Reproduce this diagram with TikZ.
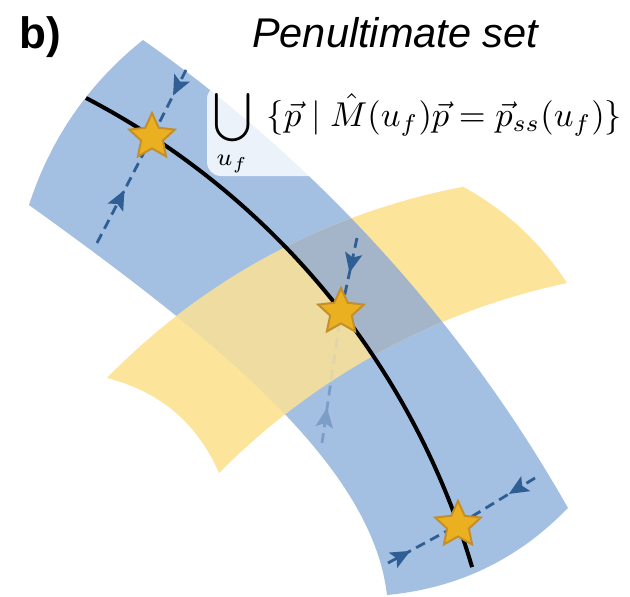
\documentclass[tikz,border=0pt]{standalone}
\usepackage{fontspec}
\setsansfont{Liberation Sans}
\usepackage{graphicx}
\usetikzlibrary{shapes.geometric,arrows.meta,decorations.markings}
\definecolor{bandblue}{HTML}{A3BFE1}
\definecolor{bandyellow}{HTML}{FCE49B}
\definecolor{tanmix}{HTML}{EEDCA0}
\definecolor{graymix}{HTML}{A4B5C9}
\definecolor{trajblue}{HTML}{2E5E94}
\definecolor{fadeblue}{HTML}{7D9DC9}
\definecolor{fadetan}{HTML}{E2D5A9}
\definecolor{starfill}{HTML}{EBB01F}
\definecolor{stardraw}{HTML}{C48F2A}
\newcommand\bluebandpath{(143,40) arc[start angle=-54.91, end angle=-29.59, radius=1442]
 .. controls (518.4,559.3) and (458,588.3) .. (387,595)
 .. controls (372,465) and (217,340) .. (29,205)
 .. controls (50.5,138.6) and (88.5,83.6) .. (143,40) -- cycle}
\newcommand\yellowbandpath{(107,378) arc[start angle=-135.73, end angle=-100.72, radius=672]
 .. controls (505.8,210.2) and (540.4,242.2) .. (567,283)
 arc[start angle=-101.94, end angle=-135.33, radius=690]
 .. controls (197.2,423) and (159.8,391.4) .. (107,378) -- cycle}
\newcommand\mainarc{(86,98) arc[start angle=-62.47, end angle=-16.44, radius=777]}
\newcommand\rightofcurve{\mainarc -- (700,567) -- (700,-50) -- (86,-50) -- cycle}
\newcommand\leftofcurve{\mainarc -- (472,650) -- (-50,650) -- (-50,98) -- cycle}
\tikzset{
 trajline/.style={color=trajblue, line width=2.8pt, dash pattern=on 10pt off 6pt},
 fadeline/.style={color=fadeblue, line width=2.8pt, dash pattern=on 10pt off 6pt},
 fadetanline/.style={color=fadetan, line width=2.8pt, dash pattern=on 10pt off 6pt},
 midarrow/.style={postaction={decorate}, decoration={markings, mark=at position #1 with {\arrow[scale=1.3]{Stealth[length=15pt,width=13pt,inset=3pt]}}}},
 starnode/.style={star, star points=5, star point ratio=2.1, minimum size=48pt, inner sep=0pt, fill=starfill, draw=stardraw, line width=2pt},
 curveline/.style={line width=4pt, black},
}
\begin{document}
\begin{tikzpicture}[x=1pt,y=-1pt]
\useasboundingbox (0,0) rectangle (630,597);
% star positions and trajectory ends
\coordinate (c1) at (152,137);
\coordinate (c2) at (341,312);
\coordinate (c3) at (458,525);
\coordinate (t1a) at (186,70);
\coordinate (t1b) at (97,243);
\coordinate (t2a) at (357,238);
\coordinate (t2b) at (322,443);
\coordinate (t3a) at (535,478);
\coordinate (t3b) at (388,563);
% blue band
\fill[bandblue] \bluebandpath;
% faded lower part of trajectory 2
\draw[fadeline, midarrow=0.27] (t2b) -- (c2);
% yellow band
\fill[bandyellow] \yellowbandpath;
% overlap of the two bands
\begin{scope}
 \clip \yellowbandpath;
 \clip \bluebandpath;
 \begin{scope}
  \clip \leftofcurve;
  \fill[tanmix] (0,0) rectangle (630,597);
  \draw[fadetanline] (t2b) -- (c2);
 \end{scope}
 \begin{scope}
  \clip \rightofcurve;
  \fill[graymix] (0,0) rectangle (630,597);
 \end{scope}
\end{scope}
% equation box
\fill[white, fill opacity=0.8, rounded corners=14pt] (207,85) rectangle (660,176);
% black curve
\draw[curveline] \mainarc;
% trajectories
\draw[trajline, midarrow=0.38] (t1a) -- (c1);
\draw[trajline, midarrow=0.5] (t1b) -- (c1);
\draw[trajline, midarrow=0.47] (t2a) -- (c2);
\draw[trajline, midarrow=0.34] (t3a) -- (c3);
\draw[trajline, midarrow=0.32] (t3b) -- (c3);
% stars
\node[starnode] (s1) at (c1) {};
\node[starnode] (s2) at (c2) {};
\node[starnode] (s3) at (c3) {};
% texts
\node[anchor=base west, inner sep=0pt, font=\sffamily\bfseries\fontsize{44}{52}\selectfont] (lab) at (19,48) {b)};
\node[anchor=base west, inner sep=0pt, font=\sffamily\itshape\fontsize{41.5}{50}\selectfont] (title) at (252,47) {Penultimate set};
\node[anchor=base west, inner sep=0pt] (eq) at (213,126) {\scalebox{3.45}{$\displaystyle\bigcup_{u_f}\;\,\{\vec{p}\mid\hat{M}(u_f)\vec{p}=\vec{p}_{ss}(u_f)\}$}};
\end{tikzpicture}
\end{document}
